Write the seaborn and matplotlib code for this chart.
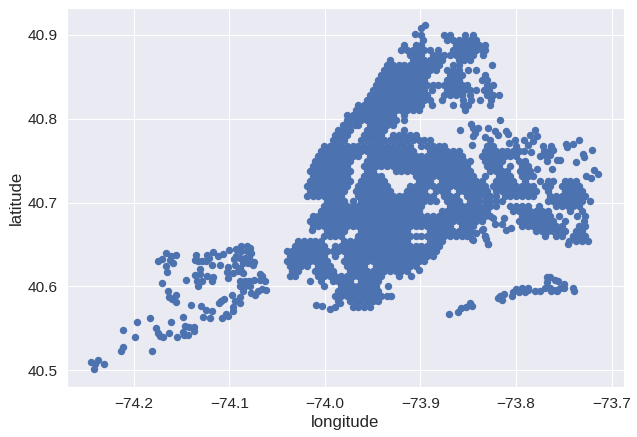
import pandas as pd
import matplotlib
matplotlib.use("Agg")
import matplotlib.pyplot as plt
import seaborn as sns

# longitudes, one list per latitude band
lon_900 = [-73.899, -73.875, -73.869, -73.853, -73.845]
lon_894 = [-73.897, -73.872, -73.866, -73.860, -73.854, -73.848, -73.842]
lon_888 = [-73.917, -73.905, -73.899, -73.863, -73.857, -73.851, -73.845, -73.839, -73.833]
lon_882 = [-73.920, -73.914, -73.908, -73.902, -73.896, -73.890, -73.882, -73.866, -73.860, -73.854, -73.848, -73.842, -73.836, -73.832]
lon_876 = [-73.911, -73.905, -73.899, -73.887, -73.881, -73.875, -73.869, -73.863, -73.857, -73.851, -73.845, -73.835]
lon_870 = [-73.932, -73.908, -73.902, -73.896, -73.890, -73.884, -73.878, -73.860, -73.854, -73.848]
lon_864 = [-73.935, -73.929, -73.923, -73.917, -73.911, -73.905, -73.899, -73.893, -73.887, -73.881, -73.866, -73.860, -73.825]
lon_858 = [-73.938, -73.932, -73.926, -73.920, -73.914, -73.908, -73.902, -73.896, -73.890, -73.884, -73.872, -73.866, -73.860, -73.850, -73.842]
lon_852 = [-73.941, -73.935, -73.929, -73.923, -73.917, -73.911, -73.905, -73.899, -73.893, -73.869, -73.863, -73.857, -73.833]
lon_846 = [-73.944, -73.938, -73.932, -73.926, -73.920, -73.914, -73.908, -73.902, -73.896, -73.872, -73.866, -73.860, -73.836, -73.830]
lon_840 = [-73.947, -73.941, -73.935, -73.929, -73.923, -73.917, -73.911, -73.905, -73.899, -73.893, -73.887, -73.882, -73.875, -73.869, -73.863, -73.857, -73.851, -73.830, -73.824]
lon_834 = [-73.950, -73.944, -73.938, -73.932, -73.926, -73.920, -73.914, -73.908, -73.902, -73.896, -73.888, -73.872, -73.866, -73.860, -73.854, -73.848, -73.842, -73.834, -73.828]
lon_828 = [-73.953, -73.947, -73.941, -73.935, -73.929, -73.923, -73.917, -73.911, -73.905, -73.899, -73.893, -73.875, -73.869, -73.863, -73.857, -73.848, -73.830, -73.824, -73.818]
lon_822 = [-73.956, -73.950, -73.944, -73.938, -73.932, -73.926, -73.920, -73.914, -73.908, -73.902, -73.896, -73.890, -73.878, -73.855, -73.847, -73.838, -73.826]
lon_816 = [-73.965, -73.959, -73.953, -73.947, -73.941, -73.935, -73.929, -73.923, -73.917, -73.911, -73.905, -73.899, -73.888, -73.866, -73.856, -73.850, -73.827]
lon_810 = [-73.968, -73.962, -73.956, -73.950, -73.944, -73.938, -73.932, -73.926, -73.920, -73.914, -73.908, -73.902, -73.853]
lon_804 = [-73.977, -73.971, -73.965, -73.959, -73.953, -73.947, -73.941, -73.935, -73.929, -73.917]
lon_798 = [-73.977, -73.974, -73.968, -73.962, -73.956, -73.950, -73.944, -73.938, -73.932, -73.926, -73.917]
lon_792 = [-73.981, -73.975, -73.969, -73.965, -73.953, -73.947, -73.941, -73.935, -73.929]
lon_786 = [-73.986, -73.980, -73.974, -73.956, -73.950, -73.944, -73.938, -73.917]
lon_780 = [-73.989, -73.983, -73.977, -73.959, -73.953, -73.947, -73.941, -73.929, -73.923, -73.917, -73.911, -73.905]
lon_774 = [-73.992, -73.986, -73.980, -73.962, -73.956, -73.950, -73.944, -73.938, -73.932, -73.926, -73.920, -73.914, -73.908, -73.902, -73.896, -73.890, -73.827]
lon_768 = [-74.001, -73.995, -73.989, -73.983, -73.977, -73.971, -73.965, -73.959, -73.953, -73.947, -73.941, -73.935, -73.929, -73.923, -73.917, -73.911, -73.899, -73.893, -73.887, -73.881, -73.875, -73.830, -73.824, -73.800]
lon_762 = [-74.004, -73.998, -73.992, -73.986, -73.980, -73.974, -73.968, -73.962, -73.956, -73.950, -73.944, -73.938, -73.932, -73.926, -73.920, -73.914, -73.908, -73.890, -73.884, -73.878, -73.872, -73.866, -73.860, -73.833, -73.827, -73.821, -73.815, -73.809, -73.803, -73.797, -73.792]
lon_756 = [-74.007, -74.001, -73.995, -73.989, -73.983, -73.977, -73.971, -73.965, -73.953, -73.947, -73.941, -73.935, -73.929, -73.923, -73.917, -73.911, -73.905, -73.899, -73.893, -73.887, -73.881, -73.875, -73.869, -73.863, -73.857, -73.836, -73.830, -73.824, -73.818, -73.812, -73.806, -73.800]
lon_750 = [-74.010, -74.004, -73.998, -73.992, -73.986, -73.980, -73.974, -73.956, -73.950, -73.944, -73.938, -73.932, -73.926, -73.920, -73.914, -73.908, -73.902, -73.896, -73.890, -73.884, -73.878, -73.872, -73.866, -73.860, -73.854, -73.848, -73.833, -73.827, -73.821, -73.815, -73.797, -73.791]
lon_744 = [-74.013, -74.007, -74.001, -73.995, -73.989, -73.983, -73.977, -73.959, -73.953, -73.947, -73.941, -73.935, -73.929, -73.923, -73.917, -73.911, -73.905, -73.899, -73.893, -73.887, -73.881, -73.875, -73.869, -73.863, -73.857, -73.851, -73.830, -73.824, -73.818, -73.806, -73.794, -73.788]
lon_738 = [-74.016, -74.010, -74.004, -73.998, -73.992, -73.986, -73.980, -73.974, -73.956, -73.950, -73.926, -73.920, -73.914, -73.908, -73.902, -73.896, -73.890, -73.884, -73.878, -73.872, -73.866, -73.860, -73.854, -73.848, -73.827, -73.821, -73.815, -73.809, -73.796, -73.791, -73.785]
lon_732 = [-74.013, -74.007, -74.001, -73.995, -73.989, -73.983, -73.977, -73.959, -73.953, -73.947, -73.941, -73.905, -73.899, -73.893, -73.887, -73.881, -73.875, -73.869, -73.863, -73.857, -73.851, -73.845, -73.832, -73.818, -73.812, -73.806, -73.794, -73.788, -73.782]
lon_726 = [-74.016, -74.010, -74.004, -73.998, -73.992, -73.986, -73.980, -73.974, -73.962, -73.956, -73.950, -73.944, -73.938, -73.902, -73.896, -73.890, -73.878, -73.872, -73.866, -73.860, -73.854, -73.848, -73.842, -73.836, -73.821, -73.815, -73.809, -73.803, -73.791, -73.775, -73.767, -73.761, -73.749, -73.743, -73.737]
lon_720 = [-74.019, -74.013, -74.007, -74.001, -73.995, -73.989, -73.983, -73.977, -73.965, -73.959, -73.953, -73.947, -73.941, -73.935, -73.911, -73.905, -73.899, -73.893, -73.887, -73.881, -73.875, -73.869, -73.863, -73.857, -73.851, -73.845, -73.839, -73.833, -73.824, -73.818, -73.812, -73.806, -73.800, -73.794, -73.788, -73.782, -73.770, -73.764, -73.752, -73.746, -73.740, -73.734]
lon_714 = [-74.016, -74.010, -74.004, -73.998, -73.992, -73.986, -73.980, -73.968, -73.962, -73.956, -73.950, -73.944, -73.938, -73.932, -73.914, -73.908, -73.902, -73.896, -73.884, -73.878, -73.872, -73.860, -73.854, -73.848, -73.842, -73.836, -73.830, -73.821, -73.815, -73.809, -73.803, -73.797, -73.791, -73.785, -73.779, -73.767, -73.749, -73.743, -73.737, -73.731]
lon_708 = [-74.019, -74.013, -74.007, -74.001, -73.995, -73.989, -73.983, -73.965, -73.959, -73.953, -73.947, -73.941, -73.935, -73.929, -73.923, -73.917, -73.911, -73.905, -73.899, -73.893, -73.887, -73.875, -73.869, -73.863, -73.851, -73.845, -73.839, -73.833, -73.827, -73.821, -73.812, -73.806, -73.800, -73.794, -73.788, -73.782, -73.764, -73.758, -73.752, -73.746, -73.740, -73.734, -73.728]
lon_702 = [-73.998, -73.992, -73.986, -73.980, -73.971, -73.962, -73.956, -73.950, -73.944, -73.938, -73.932, -73.926, -73.920, -73.914, -73.908, -73.902, -73.896, -73.890, -73.884, -73.872, -73.866, -73.860, -73.848, -73.842, -73.839, -73.833, -73.827, -73.821, -73.815, -73.767, -73.761, -73.755, -73.749, -73.743, -73.737, -73.731, -73.723]
lon_696 = [-74.001, -73.995, -73.989, -73.983, -73.977, -73.971, -73.965, -73.959, -73.953, -73.947, -73.941, -73.935, -73.929, -73.923, -73.917, -73.911, -73.905, -73.899, -73.869, -73.863, -73.857, -73.851, -73.845, -73.839, -73.833, -73.827, -73.821, -73.806, -73.800, -73.794, -73.788, -73.776, -73.758, -73.752, -73.746, -73.740, -73.734]
lon_690 = [-74.004, -73.998, -73.992, -73.986, -73.980, -73.974, -73.968, -73.962, -73.956, -73.950, -73.944, -73.938, -73.932, -73.926, -73.920, -73.914, -73.908, -73.902, -73.878, -73.872, -73.866, -73.860, -73.854, -73.848, -73.842, -73.836, -73.830, -73.803, -73.797, -73.791, -73.785, -73.779, -73.773, -73.767, -73.743, -73.731]
lon_684 = [-74.013, -74.007, -74.001, -73.995, -73.989, -73.983, -73.977, -73.971, -73.965, -73.959, -73.953, -73.947, -73.941, -73.935, -73.929, -73.923, -73.917, -73.911, -73.905, -73.899, -73.893, -73.887, -73.881, -73.875, -73.869, -73.863, -73.857, -73.851, -73.845, -73.839, -73.833, -73.827, -73.794, -73.788, -73.782, -73.776, -73.770, -73.764, -73.755, -73.736, -73.728]
lon_678 = [-74.016, -74.010, -74.004, -73.998, -73.992, -73.986, -73.980, -73.974, -73.968, -73.962, -73.956, -73.950, -73.944, -73.938, -73.932, -73.926, -73.920, -73.914, -73.908, -73.902, -73.896, -73.890, -73.884, -73.878, -73.872, -73.866, -73.860, -73.854, -73.848, -73.842, -73.836, -73.797, -73.791, -73.785, -73.779, -73.773, -73.767, -73.761, -73.749, -73.729]
lon_672 = [-74.013, -74.007, -74.001, -73.995, -73.989, -73.983, -73.977, -73.971, -73.965, -73.959, -73.953, -73.947, -73.941, -73.935, -73.929, -73.923, -73.917, -73.911, -73.905, -73.899, -73.893, -73.887, -73.881, -73.875, -73.869, -73.857, -73.851, -73.845, -73.794, -73.788, -73.782, -73.776, -73.770, -73.764, -73.758, -73.752, -73.734, -73.728]
lon_666 = [-73.998, -73.992, -73.986, -73.980, -73.962, -73.956, -73.950, -73.944, -73.938, -73.932, -73.926, -73.920, -73.914, -73.890, -73.884, -73.878, -73.872, -73.866, -73.860, -73.854, -73.848, -73.779, -73.773, -73.767, -73.761, -73.755, -73.749, -73.737, -73.731]
lon_660 = [-74.001, -73.995, -73.989, -73.983, -73.965, -73.959, -73.953, -73.947, -73.941, -73.935, -73.929, -73.923, -73.917, -73.911, -73.905, -73.899, -73.893, -73.887, -73.881, -73.875, -73.869, -73.863, -73.857, -73.851, -73.770, -73.758, -73.752, -73.740, -73.734, -73.728]
lon_654 = [-74.028, -74.022, -74.016, -74.010, -74.004, -73.980, -73.974, -73.968, -73.962, -73.956, -73.950, -73.944, -73.938, -73.932, -73.926, -73.920, -73.914, -73.890, -73.884, -73.878, -73.745, -73.737, -73.731, -73.725]
lon_648 = [-74.031, -74.025, -74.019, -74.013, -74.007, -74.001, -73.989, -73.983, -73.977, -73.971, -73.965, -73.959, -73.953, -73.947, -73.941, -73.935, -73.929, -73.923, -73.917, -73.911, -73.905, -73.899, -73.893, -73.887, -73.881]
lon_642 = [-74.040, -74.034, -74.028, -74.022, -74.016, -74.010, -74.004, -73.998, -73.992, -73.986, -73.980, -73.974, -73.968, -73.962, -73.956, -73.950, -73.944, -73.938, -73.932, -73.926, -73.920, -73.914, -73.908, -73.902, -73.896, -73.890, -73.884]
lon_636 = [-74.037, -74.031, -74.025, -74.019, -74.013, -74.007, -74.001, -73.989, -73.977, -73.971, -73.965, -73.959, -73.953, -73.947, -73.941, -73.935, -73.929, -73.923, -73.917, -73.911, -73.905, -73.899, -73.893, -73.887]
lon_630 = [-74.040, -74.034, -74.028, -74.022, -74.016, -74.010, -74.004, -73.998, -73.980, -73.974, -73.968, -73.962, -73.956, -73.950, -73.944, -73.938, -73.932, -73.926, -73.920, -73.914, -73.908, -73.902, -73.896]
lon_624 = [-74.037, -74.031, -74.025, -74.019, -74.007, -74.001, -73.995, -73.977, -73.971, -73.965, -73.959, -73.947, -73.941, -73.935, -73.929, -73.923, -73.917, -73.911, -73.905]
lon_618 = [-74.034, -74.028, -74.010, -74.004, -73.998, -73.992, -73.974, -73.968, -73.962, -73.956, -73.950, -73.944, -73.938, -73.932, -73.926, -73.920, -73.914]
lon_612 = [-74.037, -74.031, -74.007, -74.001, -73.995, -73.989, -73.983, -73.977, -73.971, -73.965, -73.959, -73.953, -73.947, -73.941, -73.923, -73.910]
lon_606 = [-74.016, -74.004, -73.992, -73.986, -73.980, -73.974, -73.962, -73.956, -73.950, -73.944]
lon_600 = [-74.001, -73.983, -73.977, -73.971, -73.965, -73.959, -73.953, -73.947, -73.934]
lon_594 = [-73.986, -73.980, -73.974, -73.968, -73.962, -73.956, -73.950, -73.944]
lon_588 = [-73.989, -73.983, -73.977, -73.971, -73.965, -73.959, -73.953, -73.947, -73.941, -73.935, -73.931]
lon_582 = [-73.986, -73.974, -73.968, -73.962, -73.956, -73.950, -73.944]
lon_576 = [-73.971, -73.965, -73.959, -73.953]

band_lats = [40.900, 40.894, 40.888, 40.882, 40.876, 40.870, 40.864, 40.858, 40.852, 40.846, 40.840, 40.834, 40.828, 40.822, 40.816, 40.810, 40.804, 40.798, 40.792, 40.786, 40.780, 40.774, 40.768, 40.762, 40.756, 40.750, 40.744, 40.738, 40.732, 40.726, 40.720, 40.714, 40.708, 40.702, 40.696, 40.690, 40.684, 40.678, 40.672, 40.666, 40.660, 40.654, 40.648, 40.642, 40.636, 40.630, 40.624, 40.618, 40.612, 40.606, 40.600, 40.594, 40.588, 40.582, 40.576]
band_lons = [lon_900, lon_894, lon_888, lon_882, lon_876, lon_870, lon_864, lon_858, lon_852, lon_846, lon_840, lon_834, lon_828, lon_822, lon_816, lon_810, lon_804, lon_798, lon_792, lon_786, lon_780, lon_774, lon_768, lon_762, lon_756, lon_750, lon_744, lon_738, lon_732, lon_726, lon_720, lon_714, lon_708, lon_702, lon_696, lon_690, lon_684, lon_678, lon_672, lon_666, lon_660, lon_654, lon_648, lon_642, lon_636, lon_630, lon_624, lon_618, lon_612, lon_606, lon_600, lon_594, lon_588, lon_582, lon_576]

# single listings away from the dense part
north_lon = [-73.895, -73.899, -73.906, -73.847, -73.845, -73.840, -73.843, -73.845, -73.859, -73.817, -73.829, -73.822, -73.819, -73.811, -73.808, -73.833, -73.846, -73.780, -73.785, -73.778, -73.782, -73.792, -73.801, -73.787, -73.807, -73.748, -73.747, -73.740, -73.734, -73.720, -73.730, -73.729, -73.737, -73.757, -73.754, -73.762, -73.778, -73.784, -73.772, -73.763, -73.771, -73.766, -73.761, -73.775, -73.769, -73.764, -73.768, -73.727, -73.722, -73.718, -73.714]
north_lat = [40.912, 40.908, 40.901, 40.794, 40.789, 40.789, 40.783, 40.779, 40.786, 40.798, 40.789, 40.785, 40.781, 40.785, 40.782, 40.778, 40.769, 40.787, 40.781, 40.779, 40.773, 40.775, 40.774, 40.769, 40.771, 40.770, 40.766, 40.770, 40.775, 40.763, 40.758, 40.754, 40.748, 40.751, 40.751, 40.740, 40.740, 40.760, 40.767, 40.767, 40.761, 40.761, 40.763, 40.755, 40.755, 40.757, 40.750, 40.732, 40.729, 40.739, 40.734]

south_lon = [-74.014, -73.846, -73.835, -73.832, -73.829, -73.902, -74.009, -74.003, -73.995, -73.990, -73.984, -73.822, -73.815, -73.811, -73.805, -73.824, -73.813, -73.836, -73.842, -73.832, -73.831, -73.829, -73.845, -73.847, -73.746]
south_lat = [40.667, 40.656, 40.668, 40.660, 40.651, 40.619, 40.578, 40.577, 40.573, 40.576, 40.580, 40.674, 40.674, 40.667, 40.670, 40.682, 40.682, 40.667, 40.664, 40.660, 40.656, 40.651, 40.655, 40.665, 40.651]

rockaway_lon = [-73.870, -73.861, -73.858, -73.852, -73.848, -73.846, -73.817, -73.813, -73.815, -73.819, -73.804, -73.803, -73.797, -73.791, -73.787, -73.800, -73.794, -73.788, -73.780, -73.775, -73.770, -73.768, -73.764, -73.768, -73.759, -73.756, -73.764, -73.759, -73.754, -73.750, -73.750, -73.763, -73.757, -73.740, -73.739]
rockaway_lat = [40.567, 40.570, 40.574, 40.576, 40.580, 40.577, 40.588, 40.591, 40.584, 40.586, 40.588, 40.593, 40.593, 40.593, 40.596, 40.597, 40.598, 40.598, 40.595, 40.595, 40.598, 40.611, 40.611, 40.605, 40.608, 40.606, 40.598, 40.596, 40.598, 40.598, 40.603, 40.594, 40.594, 40.598, 40.595]

staten_lon = [-74.245, -74.241, -74.238, -74.242, -74.231, -74.213, -74.211, -74.211, -74.199, -74.197, -74.183, -74.181, -74.177, -74.175, -74.173, -74.170, -74.163, -74.161, -74.155, -74.149, -74.149, -74.148, -74.143, -74.146, -74.142, -74.137, -74.137, -74.140, -74.130, -74.125, -74.118, -74.128, -74.120, -74.108, -74.104, -74.101, -74.096, -74.096, -74.094, -74.089, -74.089, -74.097, -74.111, -74.109, -74.106, -74.156, -74.160, -74.163, -74.156, -74.164, -74.171, -74.145, -74.133, -74.134, -74.129, -74.123, -74.118, -74.117, -74.136, -74.131, -74.131, -74.165, -74.166, -74.175, -74.171, -74.166, -74.161, -74.156, -74.162, -74.159, -74.135, -74.136, -74.133, -74.129, -74.124, -74.123, -74.117, -74.121, -74.112, -74.107, -74.118, -74.110, -74.100, -74.103, -74.102, -74.101, -74.094, -74.096, -74.093, -74.088, -74.082, -74.078, -74.093, -74.088, -74.082, -74.077, -74.095, -74.089, -74.084, -74.079, -74.086, -74.081, -74.075, -74.074, -74.088, -74.091, -74.086, -74.089, -74.089, -74.084, -74.079, -74.074, -74.068, -74.063, -74.068, -74.066, -74.089, -74.084, -74.078, -74.086, -74.077, -74.073, -74.070, -74.066, -74.062]
staten_lat = [40.510, 40.508, 40.512, 40.501, 40.508, 40.523, 40.528, 40.548, 40.540, 40.558, 40.562, 40.523, 40.550, 40.544, 40.541, 40.540, 40.544, 40.557, 40.540, 40.564, 40.546, 40.542, 40.542, 40.553, 40.551, 40.552, 40.547, 40.578, 40.577, 40.572, 40.571, 40.563, 40.562, 40.562, 40.567, 40.565, 40.571, 40.576, 40.583, 40.580, 40.587, 40.590, 40.580, 40.583, 40.585, 40.581, 40.585, 40.587, 40.590, 40.595, 40.604, 40.608, 40.600, 40.607, 40.607, 40.612, 40.607, 40.611, 40.614, 40.615, 40.621, 40.617, 40.624, 40.630, 40.633, 40.640, 40.636, 40.637, 40.631, 40.628, 40.637, 40.632, 40.630, 40.630, 40.630, 40.638, 40.641, 40.634, 40.636, 40.639, 40.625, 40.625, 40.643, 40.617, 40.610, 40.623, 40.625, 40.616, 40.644, 40.648, 40.648, 40.646, 40.636, 40.642, 40.642, 40.640, 40.633, 40.634, 40.634, 40.634, 40.628, 40.628, 40.626, 40.629, 40.618, 40.618, 40.616, 40.622, 40.606, 40.606, 40.606, 40.608, 40.608, 40.606, 40.615, 40.612, 40.600, 40.600, 40.600, 40.594, 40.592, 40.590, 40.594, 40.597, 40.596]

xticks = [-74.2, -74.1, -74.0, -73.9, -73.8, -73.7]
yticks = [40.5, 40.6, 40.7, 40.8, 40.9]

lons = []
lats = []
for lat, row in zip(band_lats, band_lons):
    lons += row
    lats += [lat] * len(row)
lons += north_lon + south_lon + rockaway_lon + staten_lon
lats += north_lat + south_lat + rockaway_lat + staten_lat
df = pd.DataFrame({"longitude": lons, "latitude": lats})

sns.set_theme(font_scale=1.4)
plt.rcParams["font.family"] = ["Liberation Sans", "DejaVu Sans"]

fig, ax = plt.subplots(figsize=(637 / 72, 437 / 72), dpi=72)
sns.scatterplot(data=df, x="longitude", y="latitude", s=55, color="#4c72b0", linewidth=0, ax=ax)
ax.set_xlim(-74.270, -73.687)
ax.set_ylim(40.480, 40.932)
ax.set_xticks(xticks)
ax.set_yticks(yticks)
fig.subplots_adjust(left=67 / 637, right=624 / 637, top=1 - 8 / 437, bottom=1 - 387 / 437)
fig.savefig("out.png", dpi=72)
